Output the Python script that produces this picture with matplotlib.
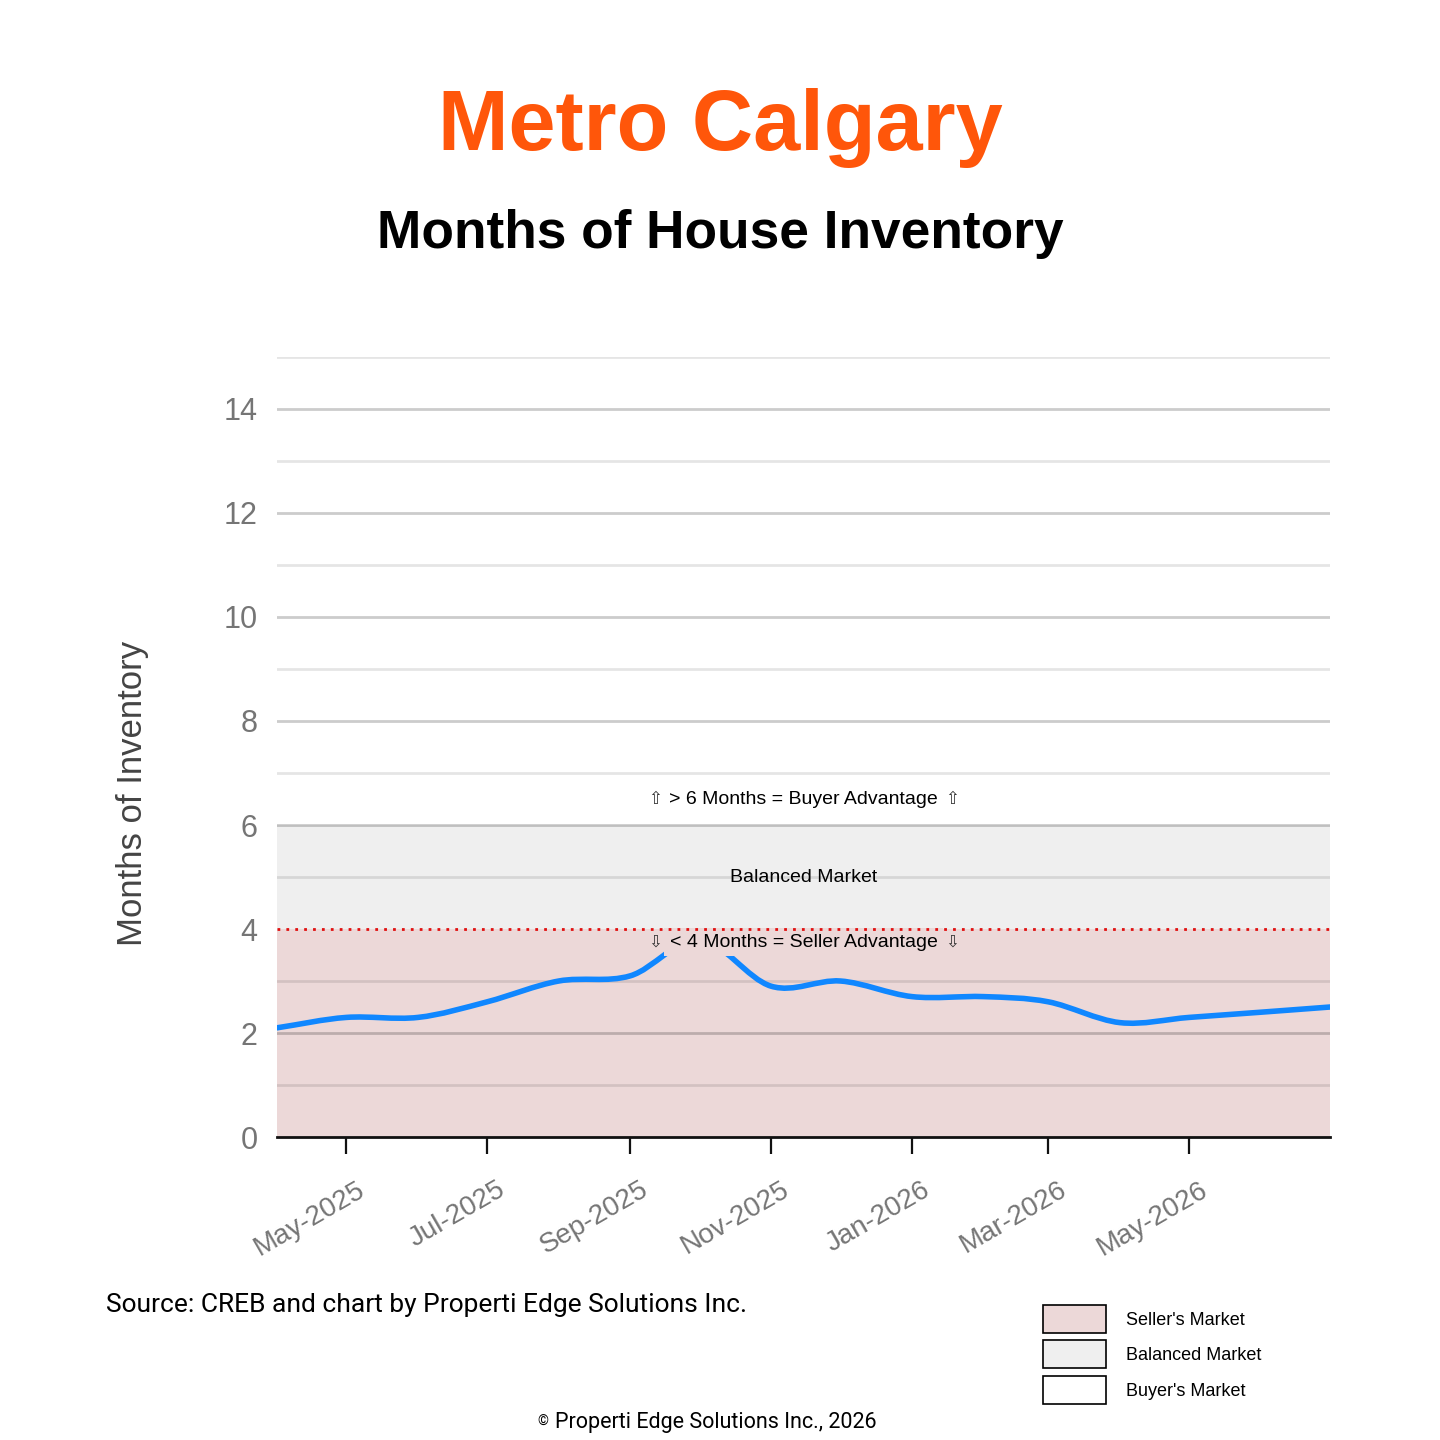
import numpy as np
import pandas as pd
import matplotlib
matplotlib.use("Agg")
import matplotlib.pyplot as plt
import matplotlib.dates as mdates
from matplotlib.path import Path
from matplotlib.patches import PathPatch, Rectangle
from matplotlib.transforms import ScaledTranslation

# Monthly months-of-inventory readings (Apr-2025 .. Jul-2026)
months = pd.date_range("2025-04-01", "2026-07-01", freq="MS")
inventory = [2.1, 2.3, 2.3, 2.6, 3.0, 3.1, 3.8, 2.9, 3.0, 2.7, 2.7, 2.6, 2.2, 2.3, 2.4, 2.5]

seller_max = 4
balanced_max = 6
y_max = 15

title = "Metro Calgary"
subtitle = "Months of House Inventory"
y_label = "Months of Inventory"
buyer_note = "> 6 Months = Buyer Advantage"
balanced_note = "Balanced Market"
seller_note = "< 4 Months = Seller Advantage"
up_arrow = "\u21e7"
down_arrow = "\u21e9"
source_note = "Source: CREB and chart by Properti Edge Solutions Inc."
copyright_note = "Properti Edge Solutions Inc., 2026"
legend_labels = ["Seller's Market", "Balanced Market", "Buyer's Market"]

SELLER_COLOR = "#ecd8d8"
BALANCED_COLOR = "#efefef"
BUYER_COLOR = "#ffffff"
LINE_COLOR = "#1087ff"
FONT = ["Liberation Sans", "DejaVu Sans"]

fig = plt.figure(figsize=(14.4, 14.4), dpi=100)
ax = fig.add_axes([0.1924, 0.2104, 0.7312, 0.5417])

x = mdates.date2num(months)
y = np.array(inventory)

# market bands
ax.axhspan(0, seller_max, color=SELLER_COLOR, lw=0, zorder=0)
ax.axhspan(seller_max, balanced_max, color=BALANCED_COLOR, lw=0, zorder=0)
ax.axhline(seller_max, color="#e01010", lw=2, ls=(0, (1, 2.2)), zorder=6)

# gridlines
for v in range(1, y_max + 1):
    if v == seller_max:
        continue
    if v % 2 == 0:
        ax.axhline(v, color="black", alpha=0.2, lw=2, zorder=1)
    else:
        ax.axhline(v, color="black", alpha=0.1, lw=2, zorder=1)

# smooth curve through the monthly points (Catmull-Rom as cubic Bezier)
px = np.concatenate([[2 * x[0] - x[1]], x, [2 * x[-1] - x[-2]]])
py = np.concatenate([[2 * y[0] - y[1]], y, [2 * y[-1] - y[-2]]])
verts = [(x[0], y[0])]
codes = [Path.MOVETO]
for i in range(1, len(px) - 2):
    c1 = (px[i] + (px[i + 1] - px[i - 1]) / 6, py[i] + (py[i + 1] - py[i - 1]) / 6)
    c2 = (px[i + 1] - (px[i + 2] - px[i]) / 6, py[i + 1] - (py[i + 2] - py[i]) / 6)
    verts += [c1, c2, (px[i + 1], py[i + 1])]
    codes += [Path.CURVE4] * 3
ax.add_patch(PathPatch(Path(verts, codes), fill=False, edgecolor=LINE_COLOR,
                       lw=4, capstyle="round", zorder=3))

ax.set_xlim(x[0], x[-1])
ax.set_ylim(0, y_max)

# annotations
xc = (x[0] + x[-1]) / 2
ax.text(xc, 6.5, buyer_note, ha="center", va="center", fontsize=14,
        family=FONT, zorder=4)
ax.text(xc, 5.0, balanced_note, ha="center", va="center", fontsize=14,
        family=FONT, zorder=4)
ax.text(xc, 3.75, seller_note, ha="center", va="center", fontsize=14,
        family=FONT, zorder=4,
        bbox=dict(facecolor=SELLER_COLOR, edgecolor="none", pad=4))
for yy, arrow in [(6.5, up_arrow), (3.75, down_arrow)]:
    for off in (-107, 107):
        ax.annotate(arrow, (xc, yy), xytext=(off, 0), textcoords="offset points",
                    ha="center", va="center", fontsize=12, color="#333333",
                    family=["DejaVu Sans"], zorder=5)

# axes styling
for s in ["top", "right", "left"]:
    ax.spines[s].set_visible(False)
ax.spines["bottom"].set_color("#111111")
ax.spines["bottom"].set_linewidth(2)
ax.spines["bottom"].set_zorder(5)

ax.set_yticks(range(0, y_max, 2))
ax.tick_params(axis="y", length=0, pad=14, labelsize=22, labelcolor="#757575")
ax.set_xticks(x[1:-1:2])
ax.xaxis.set_major_formatter(mdates.DateFormatter("%b-%Y"))
ax.tick_params(axis="x", length=12, width=1.6, color="#111111", pad=8,
               labelsize=20, labelcolor="#757575")
for lab in ax.get_xticklabels():
    lab.set_rotation(30)
    lab.set_ha("right")
    lab.set_rotation_mode("anchor")
    lab.set_transform(lab.get_transform() + ScaledTranslation(0.1, -0.12, fig.dpi_scale_trans))
for lab in ax.get_yticklabels() + ax.get_xticklabels():
    lab.set_family(FONT)

ax.set_ylabel(y_label, fontsize=25, color="#444444", family=FONT)
ax.yaxis.set_label_coords(-0.122, 0.44)

# titles
fig.text(0.5, 0.8958, title, ha="center", va="baseline", fontsize=61,
         fontweight="bold", color="#ff560a", family=FONT)
fig.text(0.5, 0.8278, subtitle, ha="center", va="baseline", fontsize=38.3,
         fontweight="bold", color="black", family=FONT)

# footer
fig.text(0.0736, 0.0889, source_note, ha="left", va="baseline", fontsize=19,
         family=["Roboto", "DejaVu Sans"])
fig.text(0.3854, 0.0083, copyright_note, ha="left", va="baseline", fontsize=15.5,
         family=["Roboto", "DejaVu Sans"])
fig.text(0.3806, 0.0100, "\u00a9", ha="right", va="baseline", fontsize=10,
         family=["Roboto", "DejaVu Sans"])

# legend boxes
legend_colors = [SELLER_COLOR, BALANCED_COLOR, BUYER_COLOR]
bottoms = [0.0743, 0.0500, 0.0250]
for col, lab, b in zip(legend_colors, legend_labels, bottoms):
    fig.patches.append(Rectangle((0.7243, b), 0.04375, 0.0194, transform=fig.transFigure,
                                 facecolor=col, edgecolor="black", lw=1.2))
    fig.text(0.782, b + 0.0085, lab, ha="left", va="center", fontsize=13, family=FONT)

fig.savefig("out.png", dpi=100, facecolor="white")
